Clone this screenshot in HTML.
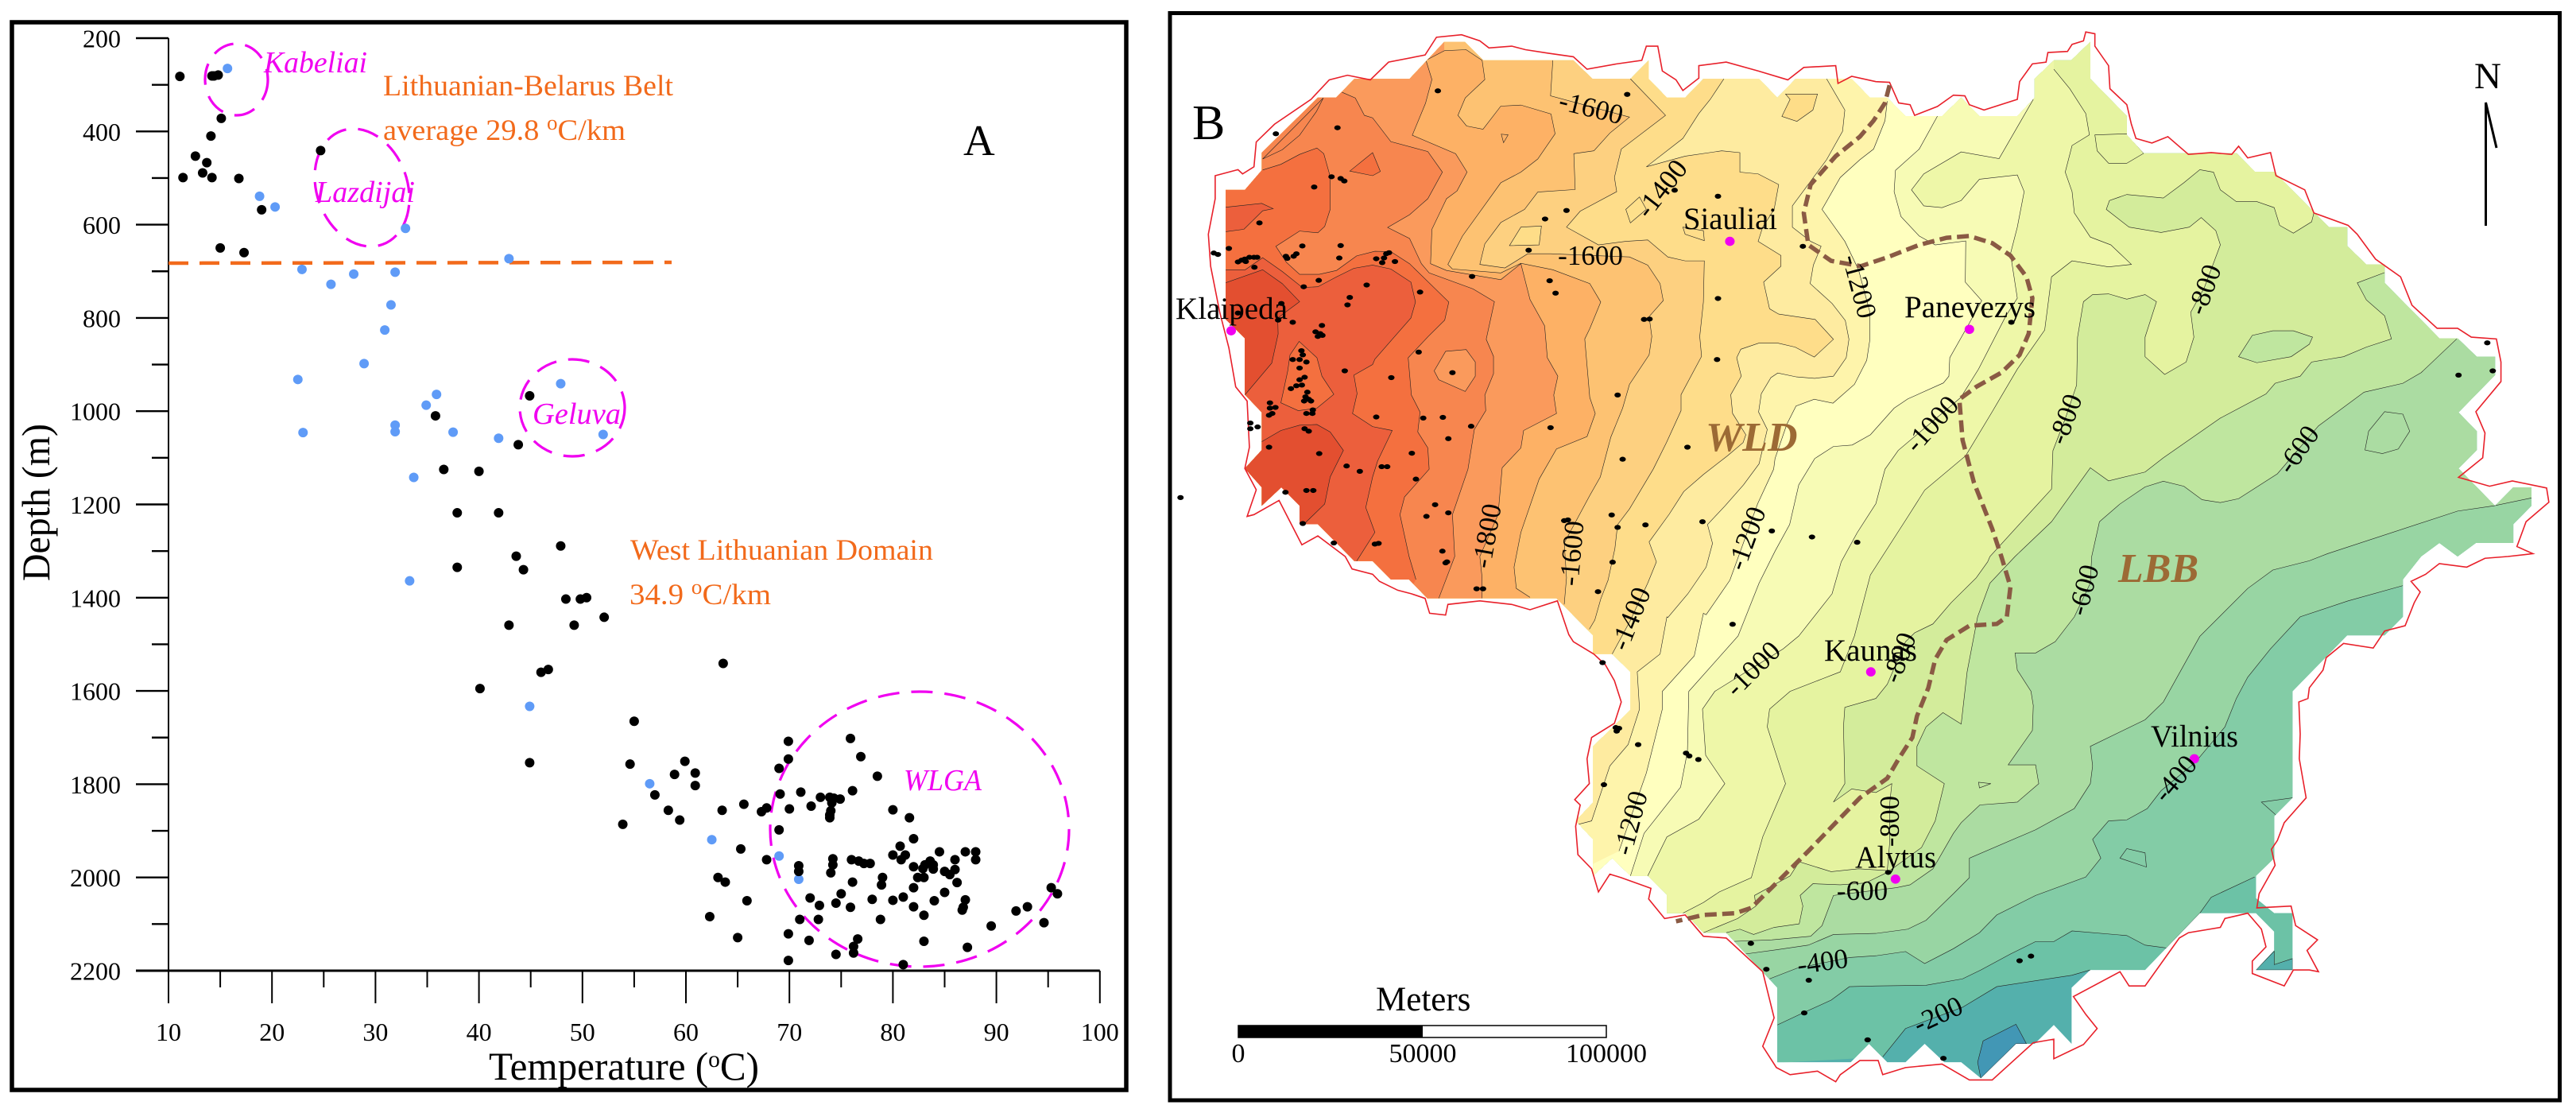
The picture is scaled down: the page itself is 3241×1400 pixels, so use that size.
<!DOCTYPE html>
<html lang="en">
<head>
<meta charset="utf-8">
<title>Temperature versus depth and depth map, Lithuania</title>
<style>
html,body{margin:0;padding:0;background:#fff;overflow:hidden}
svg{display:block}
text{font-family:"Liberation Serif","Times New Roman",serif}
</style>
</head>
<body>
<svg id="fig" xmlns="http://www.w3.org/2000/svg" width="3241" height="1400" viewBox="0 0 3241 1400">
<rect width="3241" height="1400" fill="#fff"/>
<rect x="15" y="28" width="1402" height="1343" fill="none" stroke="#000" stroke-width="5.5"/>
<rect x="1472" y="16.5" width="1748.5" height="1367.5" fill="none" stroke="#000" stroke-width="5"/>

<g id="chartA">
  <g id="axes"></g>
  <line x1="212" y1="331" x2="845" y2="330" stroke="#f26a1b" stroke-width="4.5" stroke-dasharray="25 14"/>
  <g fill="none" stroke="#f000f0" stroke-width="3.2" stroke-dasharray="27 15">
    <ellipse cx="297.5" cy="100" rx="39.5" ry="45"/>
    <ellipse cx="455.5" cy="236" rx="57" ry="76" transform="rotate(-20 455.5 236)"/>
    <ellipse cx="720" cy="513" rx="66" ry="61"/>
    <ellipse cx="1157" cy="1043" rx="188" ry="173"/>
  </g>
  <g id="points"></g>
  <g fill="#f000f0" font-style="italic" font-size="38">
    <text x="332" y="91" textLength="130" lengthAdjust="spacingAndGlyphs">Kabeliai</text>
    <text x="397" y="254" textLength="125" lengthAdjust="spacingAndGlyphs">Lazdijai</text>
    <text x="670" y="533" textLength="111" lengthAdjust="spacingAndGlyphs">Geluva</text>
    <text x="1137" y="994" textLength="98" lengthAdjust="spacingAndGlyphs">WLGA</text>
  </g>
  <g fill="#f26a1b" font-size="37">
    <text x="482" y="120" textLength="365" lengthAdjust="spacingAndGlyphs">Lithuanian-Belarus Belt</text>
    <text x="482" y="176" textLength="305" lengthAdjust="spacingAndGlyphs">average 29.8 <tspan dy="-13" font-size="26">o</tspan><tspan dy="13">C/km</tspan></text>
    <text x="793" y="704" textLength="381" lengthAdjust="spacingAndGlyphs">West Lithuanian Domain</text>
    <text x="792" y="760" textLength="178" lengthAdjust="spacingAndGlyphs">34.9 <tspan dy="-13" font-size="26">o</tspan><tspan dy="13">C/km</tspan></text>
  </g>
  <text x="1212" y="195" font-size="55">A</text>
  <text transform="translate(62 632) rotate(-90)" text-anchor="middle" font-size="50" textLength="198" lengthAdjust="spacingAndGlyphs">Depth (m)</text>
  <text x="615" y="1358" font-size="50" textLength="340" lengthAdjust="spacingAndGlyphs">Temperature (<tspan dy="-16" font-size="30">o</tspan><tspan dy="16">C)</tspan></text>
</g>

<defs><clipPath id="countryClip"><path id="countryClipPath"/></clipPath></defs>
<g id="mapUV" transform="translate(1460 0) scale(0.57406 0.44643)">
  <g clip-path="url(#countryClip)">
    <rect x="-100" y="0" width="3200" height="3100" fill="#54b0ac"/>
    <g id="bands"></g>
    <g id="islands"></g>
  </g>
  <path id="redBorder" fill="none" stroke="#e8202a" stroke-width="1.6" vector-effect="non-scaling-stroke"/>
  <path id="brownLine" fill="none" stroke="#8a5a44" stroke-width="5.5" stroke-dasharray="15 7" vector-effect="non-scaling-stroke"/>
  <g id="wells"></g>
  <g id="cities"></g>
</g>

<g id="mapText">
  <text x="1500" y="175" font-size="62">B</text>
  <g font-size="39">
    <text x="2118" y="288" textLength="118" lengthAdjust="spacingAndGlyphs">Siauliai</text>
    <text x="1479" y="401" textLength="141" lengthAdjust="spacingAndGlyphs">Klaipeda</text>
    <text x="2396" y="399" textLength="165" lengthAdjust="spacingAndGlyphs">Panevezys</text>
    <text x="2295" y="831" textLength="117" lengthAdjust="spacingAndGlyphs">Kaunas</text>
    <text x="2706" y="939" textLength="110" lengthAdjust="spacingAndGlyphs">Vilnius</text>
    <text x="2334" y="1091" textLength="102" lengthAdjust="spacingAndGlyphs">Alytus</text>
  </g>
  <g fill="#9c6a35" font-weight="bold" font-style="italic" font-size="52">
    <text x="2146" y="567">WLD</text>
    <text x="2665" y="732">LBB</text>
  </g>
  <g id="contourLabels" font-size="35" text-anchor="middle"></g>
  <text x="3113" y="111" font-size="47">N</text>
  <path d="M3127.5 284V129L3141 186" fill="none" stroke="#000" stroke-width="3"/>
  <text x="1731" y="1271" font-size="43">Meters</text>
  <rect x="1558" y="1290" width="463" height="15" fill="#fff" stroke="#000" stroke-width="1.5"/>
  <rect x="1558" y="1290" width="232" height="15" fill="#000"/>
  <g font-size="34" text-anchor="middle">
    <text x="1558" y="1336">0</text>
    <text x="1790" y="1336">50000</text>
    <text x="2021" y="1336">100000</text>
  </g>
</g>

<script>
// ---------- Scatter chart data ----------
var xTickValues = [10,20,30,40,50,60,70,80,90,100];
var yTickValues = [200,400,600,800,1000,1200,1400,1600,1800,2000,2200];
var blackTemperature = [11.1,14.2,14.8,14.4,15.1,14.1,12.6,13.7,13.3,11.4,14.2,16.8,19.0,24.7,15.0,17.3,44.9,35.8,43.8,36.6,40.0,37.9,41.9,47.9,43.6,37.9,44.3,48.4,49.8,50.4,52.1,42.9,49.2,63.6,46.7,46.0,40.1,55.0,75.9,69.9,76.9,69.9,59.9,44.9,54.6,60.9,58.9,78.5,69.0,60.9,57.0,69.1,71.1,76.1,73.0,73.9,74.3,74.9,74.1,65.6,67.8,72.1,70.0,67.3,74.0,63.5,58.3,80.0,73.9,81.6,59.4,73.9,53.9,69.0,82.0,80.7,65.3,84.5,87.0,88.0,80.0,81.2,80.8,67.8,74.2,76.0,76.7,77.2,77.8,88.0,86.0,83.6,83.1,83.9,82.0,82.9,83.9,74.2,70.9,70.9,86.0,85.0,74.0,85.5,82.4,83.0,79.0,63.1,63.8,76.1,86.2,78.9,82.0,95.3,95.9,85.0,75.0,72.0,81.0,78.0,80.0,84.0,87.0,65.9,74.5,72.9,82.0,93.0,75.9,86.8,91.9,86.7,83.0,62.3,78.8,71.0,72.8,94.6,89.5,69.9,65.0,76.6,71.9,83.0,76.2,87.2,76.2,74.5,69.9,81.0];
var blackDepth = [282,281,279,281,372,410,453,467,489,499,499,501,568,441,650,660,967,1010,1072,1125,1129,1218,1218,1289,1311,1335,1340,1403,1403,1400,1442,1459,1459,1541,1554,1560,1595,1665,1702,1708,1741,1746,1751,1754,1757,1776,1779,1783,1766,1803,1823,1821,1817,1814,1828,1828,1830,1832,1840,1843,1851,1847,1853,1859,1857,1856,1856,1855,1866,1872,1877,1872,1886,1898,1917,1933,1939,1945,1945,1945,1952,1952,1962,1962,1960,1962,1965,1970,1970,1962,1962,1965,1973,1973,1977,1981,1982,1973,1975,1987,1983,1987,1990,1994,2000,2000,2000,2000,2010,2010,2011,2016,2022,2022,2035,2032,2035,2044,2042,2047,2049,2050,2048,2050,2055,2060,2063,2063,2064,2064,2072,2070,2081,2084,2090,2090,2090,2097,2104,2121,2129,2132,2135,2137,2148,2150,2162,2165,2178,2187];
var blueTemperature = [15.7,18.8,20.3,32.9,42.9,22.9,25.7,27.9,31.9,31.5,30.9,28.9,22.5,47.9,35.9,34.9,31.9,31.9,23.0,37.5,41.9,52.0,33.7,33.3,44.9,56.5,62.5,69.0,70.9];
var blueDepth = [265,539,562,608,673,696,728,706,702,772,826,898,932,941,964,987,1030,1044,1046,1045,1058,1050,1142,1364,1633,1799,1919,1954,2004];

// ---------- Map data (digitised map units) ----------
var countryOutline = [3,[143,535,185,535,222,480,222,430,345,275,385,275,425,222,546,222,622,118,667,118,708,170,905,170,947,222,1030,222,1070,170,1070,222,1110,275,1150,275,1190,222,1312,222,1352,275,1392,222,1515,222,1555,275],
4,[60,275,100,327,180,327,222,275,262,327,345,327,383,275,383,222,425,170,463,170,505,118,505,222,585,327,585,380,622,432,826,432,866,484,908,484,1028,640,1068,640,1068,693,1110,745,1150,745,1150,797,1270,953,1310,953,1352,1005,1392,1005,1392,1057,1312,1162,1352,1215,1352,1268,1312,1320,1392,1425,1432,1373,1472,1373,1472,1425,1432,1477,1432,1530,1350,1530,1310,1568,1270,1530,1230,1568],
6,[1190,65,1190,170,1150,222,1068,222,948,380,948,680,908,732,908,850,868,900,868,963,908,1005,948,1005,948,1165,868,1165,908,1110,908,1057,868,1005,745,1005,625,1165,505,1165,464,1215,464,1373,425,1320,383,1373,342,1373,265,1470,222,1425,185,1425,142,1373,100,1425,60,1425,20,1373,-20,1425],
5,[1352,1425,1352,1215,1240,1060,1190,1060,1150,1005,1110,1005,1110,953,1068,900,1030,900,990,850,948,900,948,797,910,745,948,693,948,535,1030,432,1030,325,990,275,948,275,948,222,868,118,585,118,545,65,505,65,465,13,425,13],
3,[345,1477,305,1477,305,1425,265,1373,222,1425,222,1373,185,1320,222,1268,222,1162,185,1112,185,953,143,900]];

var borderOutline = [3,[120,495,170,478,180,490,205,470,210,400,250,350,330,280,370,225,410,212,460,225,500,175,580,155,605,105,660,98,700,115,720,135,770,130,800,140,850,150,905,160,935,195,1000,180,1055,170,1065,130,1090,130,1100,200,1130,225,1145,255,1180,220,1180,185,1240,175,1310,200,1375,225,1410,190,1480,185,1485,235,1515,215,1568,230],
4,[65,232,85,290,110,295,120,325,170,300,205,268,230,270,240,295,272,310,345,280,350,230,378,180,408,175,412,148,455,145,465,125,490,115,495,90,515,95,515,130,545,185,548,250,585,295,595,350,605,390,640,403,675,385,720,435,770,430,815,435,830,412,850,445,900,430,912,495,975,535,995,600,1070,635,1090,660,1130,730,1185,780,1210,860,1265,925,1310,925,1340,950,1395,955,1405,1020,1405,1075,1350,1160,1370,1220,1365,1290,1312,1345,1380,1370,1430,1355,1505,1375,1510,1415,1460,1470,1440,1540,1475,1560],
6,[1420,0,1370,5,1330,30,1270,20,1240,50,1208,70,1228,100,1215,130,1195,195,1150,210,1125,258,1060,245,1022,285,1015,320,985,370,982,400,962,410,965,500,963,570,978,680,930,750,915,800,902,825,910,870,875,950,870,990,945,985,955,1040,1003,1080,980,1110,1005,1170,985,1165,950,1165,930,1210,860,1175,860,1140,890,1100,880,1050,850,1005,800,1020,790,1045,720,1060,700,1075,625,1210,590,1210,570,1170,468,1240,495,1290,520,1330,490,1375,425,1415,425,1360,380,1370,290,1475,240,1475,180,1430,100,1440,50,1460,40,1420,0,1420],
5,[1490,1460,1480,1480,1440,1450,1380,1460,1350,1440,1320,1380,1345,1300,1320,1170,1240,1075,1190,1070,1150,1010,1105,1020,1070,965,1075,935,1010,905,985,895,960,945,945,880,915,840,910,760,920,700,908,685,940,640,935,570,945,510,995,470,1010,410,995,350,975,305,950,275,905,240,895,220,870,125,810,150,770,135,700,125,630,135,625,165,590,160,580,118,550,105,520,95,480,70,465,50,420,35,405,0],
3,[345,1510,310,1535,260,1410,205,1450,190,1455,210,1380,185,1320,195,1260,190,1130,165,1090,150,980,130,880,110,750,105,660,120,560]];

var boundaryLine = [4,[65,240,55,290,30,340,0,385],3,[1480,440,1425,520,1410,600,1420,690,1470,735,1535,750],4,[60,725,130,690,190,670,240,665,290,685,330,720,365,780,378,840,370,940,350,1000,310,1050,255,1090,218,1125,225,1240,250,1360,290,1490,310,1568],6,[330,85,322,170,300,190,240,195,190,235,165,290,150,370,125,450,115,510,85,570,60,625,0,680],5,[1480,750,1420,830,1350,920,1295,990,1260,1005,1190,1010,1130,1028]];

var contourBands = [
{fill:'#6cc2a6',exit:'E',segs:[6,[50,1410,100,1330,225,1270,300,1212,464,1180,505,1165]]},
{fill:'#83cca6',exit:'E',segs:[5,[1352,1320,1410,1285,1470,1250,1510,1212,1568,1210],6,[145,1208,225,1190,265,1165,330,1120,385,1085,425,1085,465,1055,585,1068,625,1095,672,1103,745,1005,770,960,865,903]]},
{fill:'#98d5a3',exit:'E',segs:[5,[1335,1190,1395,1160,1510,1130],6,[35,1125,100,1113,142,1147,205,1105,262,1060,300,1010,385,955,495,903,528,850,510,797,545,745,585,742,630,710,660,660,735,580,800,480,825,400,850,340,900,260,965,170,1070,125,1190,82]]},
{fill:'#abdca2',exit:'E',segs:[5,[1282,1120,1350,1108,1420,1095,1475,1065],6,[35,1062,105,1050,145,1025,205,950,240,905,240,850,385,770,470,710,505,640,510,590,505,535,625,460,665,410,745,225,850,90,905,38,985,12],4,[1025,1560,1310,1440,1390,1425,1472,1403]]},
{fill:'#bfe69f',exit:'E',segs:[5,[1245,1085,1340,1080,1425,1070,1450,1040,1475,955],6,[80,933,110,925,160,880,205,780,222,750,263,700,345,692,392,640,385,587,325,587,378,490,380,420,375,380,345,320,340,272,385,272,428,240,470,170,505,75,508,0],4,[525,1470,570,1420,625,1372,665,1356,710,1370,750,1408,790,1416,830,1405,915,1335,1005,1200,1105,1105,1190,1080,1230,1050,1308,955]]},
{fill:'#d3ec9b',exit:'E',segs:[5,[1240,1060,1270,1050,1300,1065,1345,1045,1400,1035,1408,985,1402,955,1430,922,1490,925],6,[12,920,60,890,135,820,165,745,185,640,125,590,125,535,145,480,182,440,222,472,235,325,258,170,285,75,340,0],4,[420,1470,505,1318,545,1355,625,1330,665,1290,790,1178,890,1110,910,1080,965,1060,990,1020,1060,1005,1110,978,1165,955,1150,890,1110,845,1090,797,1150,768]]},
{fill:'#e5f3a0',exit:'E',segs:[5,[1190,1060,1265,1020,1305,985,1302,955,1380,900,1400,860,1470,888,1530,880],6,[60,885,65,810,65,700,70,640,35,665,-18,655,-58,692,-33,640,-36,480,-33,425,35,400,60,360,100,240,120,215,160,190,200,130,255,60,280,15],4,[285,1568,420,1378,423,1270,450,1180,475,1085,477,950,490,850,510,830,545,828,585,843,625,830,650,850,625,950,625,1005,668,1055,715,1020,732,950,725,880,755,810,790,690,780,650,748,613,722,640,660,655,590,640,540,590,547,565,585,548,665,558,710,515,745,478,775,485,790,535,825,568,870,568,908,585,920,635,950,657,990,625,995,600]]},
{fill:'#eef7a8',exit:'N',segs:[5,[1145,1005,1190,975,1225,945,1295,905,1320,790,1370,640,1330,480,1335,430,1380,380,1450,345,1490,325],3,[1521,1792,1556,1620,1638,1456,1675,1381,1765,1284],4,[290,1160,345,1040,405,930,420,780,465,735,545,752,595,745,550,690,505,668,470,600,465,540,450,485,465,410,503,380,495,320,460,250,425,195]]},
{fill:'#f7fbb5',exit:'N',segs:[5,[1068,900,1110,790,1180,740,1237,640,1195,560,1188,430,1215,380,1365,260],3,[1399,1792,1472,1673,1492,1583,1527,1501,1568,1419,1588,1322,1617,1269,1754,1120],4,[260,1040,320,890,345,840,330,715,345,640,360,540,345,493,262,505,222,565,180,585,140,580,113,535,140,490,222,428,305,447,380,280]]},
{fill:'#ffffbf',exit:'N',segs:[5,[1030,900,1060,780,1140,650,1155,550,1158,380],3,[1266,1792,1312,1643,1347,1553,1379,1478,1399,1366,1434,1292,1475,1258,1516,1254,1556,1225,1608,1150,1638,1124,1716,1079,1728,1060,1730,1008,1773,910,1800,847,1764,795,1765,679],4,[165,690,130,665,90,610,75,540,78,480,130,420,170,327]]},
{fill:'#fef4ab',exit:'N',segs:[5,[1005,830,1065,610,1100,430,1100,380,1170,280,1190,160],3,[1196,1732,1248,1635,1309,1419,1344,1322,1347,1292,1373,1195,1393,1144,1433,1125,1474,1136,1521,1083,1548,1015,1555,956,1555,880,1530,760,1500,680,1450,590,1490,500,1533,450],4,[30,420,55,340,60,285]]},
{fill:'#feeba0',exit:'N',segs:[5,[915,755,945,745,985,590,1025,530,1050,430,1045,325,1095,275,1110,170],3,[1112,1740,1156,1673,1196,1598,1210,1531,1199,1478,1237,1426,1278,1366,1312,1307,1330,1210,1311,1161,1317,1109,1338,1064,1353,1051,1394,1062,1434,1066,1475,1060,1503,1008,1509,956,1501,903,1472,855,1424,799,1431,747,1448,694,1425,680,1385,640,1385,580,1460,450,1495,370,1500,310,1460,222]]},
{fill:'#fedd8a',exit:'N',segs:[5,[990,275,1030,180],3,[1068,1643,1087,1583,1071,1527,1115,1449,1147,1385,1190,1337,1243,1284,1277,1247,1283,1225,1254,1165,1250,1112,1273,1060,1263,1008,1272,984,1311,967,1354,967,1391,978,1433,1006,1475,956,1435,900,1355,885,1335,870,1322,795,1360,750,1360,720,1310,680,1320,640,1345,590,1355,520,1310,490,1270,485,1270,430,1230,425,1150,440,1065,470,1145,390,1180,320,1205,280,1235,222]]},
{fill:'#fdd080',exit:'N',segs:[5,[940,205],3,[952,1747,965,1688,981,1635,996,1546,1002,1478,1028,1434,1080,1322,1109,1247,1141,1157,1141,1112,1186,1004,1182,948,1190,851,1192,735,1150,735,1112,724,1068,676,1020,680,960,690,890,640,920,595,1000,540,995,500,1010,420,1107,325,1030,222]]},
{fill:'#fdc272',exit:'N',segs:[5,[885,135,890,60],3,[885,1530,941,1396,964,1344,987,1232,1013,1150,1028,1083,1071,1000,1077,948,1071,892,1102,847,1095,799,1068,747,1028,724,855,715,805,715,755,755,700,745,711,687,746,627,798,590,827,541,909,534,906,433,950,425,985,375,1028,330,855,270,860,170]]},
{fill:'#fdb165',exit:'N',segs:[5,[810,115,780,90,775,30],3,[790,1500,830,1350,868,1265,935,1230,953,1165,941,1120,930,955,941,926,965,851,941,799,860,760,790,742,746,769,640,758,630,745,662,665,746,515,790,485,827,448,865,377,856,321,790,296,746,299,707,364,671,355,652,325,668,276,711,224,705,170,670,140,620,143]]},
{fill:'#fa9a5c',exit:'N',segs:[5,[705,118,705,60,700,0],3,[740,1450,749,1318,790,1262,796,1213,868,1165,862,1113,871,1060,848,1008,842,918,810,844,790,743,746,788,627,762,592,743,595,646,627,560,650,538,672,485,647,433,552,381,581,291,595,224,582,170,622,143]]},
{fill:'#f7864f',exit:'N',segs:[5,[610,118,645,0],3,[640,1450,674,1322,688,1210,713,1157,711,1113,730,1053,730,1004,714,956,732,850,685,814,589,769,572,743,546,672,498,641,546,605,586,560,618,485,586,427,505,399,465,332,447,325,427,276,398,260]]},
{fill:'#f4703f',exit:'W',segs:[5,[560,65,545,0],3,[525,1450,535,1400,589,1322,586,1262,564,1217,569,1161,550,1113,543,1008,587,948,623,902,632,851,589,797,546,743,505,709,470,708,430,721,386,762,348,773,305,773,276,739,253,694,305,651,345,656,360,638,372,590,372,497,358,433,343,417,305,435,264,463,224,479]]},
{fill:'#ec5f3c',exit:'W',segs:[5,[430,13],3,[470,1500,450,1430,465,1344,476,1299,508,1213,465,1202,421,1165,431,1109,424,1057,465,1027,470,1012,508,956,549,896,559,851,549,795,505,758,465,747,424,756,386,780,345,808,311,810,267,765,224,726,186,760,142,760]]}
];

var contourIslands = [
{fill:'#e34f30',segs:[3,[100,800,142,797,224,760,267,799,305,850,257,896,258,941,244,1023,183,1116,100,1125]]},
{fill:'#e34f30',segs:[3,[100,1330,224,1243,264,1213,305,1198,343,1196,372,1217,401,1269,372,1344,360,1420,320,1470,305,1500,100,1500]]},
{fill:'#f4703f',segs:[3,[304,962,343,1008,354,1060,380,1111,343,1150,302,1157,264,1135,279,1045,284,1000]]},
{fill:'#ec5f3c',segs:[3,[142,584,222,573,247,588,224,594,183,646,142,653]]},
{fill:'#f4703f',segs:[3,[415,482,465,430,482,483,465,495]]},
{fill:'#fa9a5c',segs:[3,[600,1045,625,990,670,985,690,1020,690,1060,668,1103,610,1070]]},
{fill:'#fedd88',segs:[3,[765,692,790,640,835,637,830,690]]},
{fill:'none',segs:[3,[747,378,762,380,752,402]]},
{fill:'#fedd88',segs:[3,[1370,265,1440,265,1430,310,1395,342,1362,328,1380,280]]},
{fill:'#fee08b',segs:[3,[1020,590,1050,555,1065,590,1030,628]]},
{fill:'none',segs:[3,[1145,640,1190,650,1192,678,1150,660]]},
{fill:'none',segs:[3,[224,448,267,422,305,381,342,314,357,276]]},
{fill:'#e5f3a0',segs:[4,[515,380,585,377,622,432,585,460,545,460,520,425]]},
{fill:'#bfe69f',segs:[4,[830,1005,860,945,905,932,950,932,992,950,985,970,945,1005,870,1022]]},
{fill:'none',segs:[4,[1150,1160,1190,1167,1205,1215,1180,1265,1145,1278,1107,1268,1115,1215]]},
{fill:'none',segs:[6,[570,850,585,823,625,835,628,875]]},
{fill:'none',segs:[6,[880,692,948,680,948,700,915,732]]},
{fill:'none',segs:[6,[260,636,287,640,262,652]]},
{fill:'#54b0ac',segs:[6,[868,1165,908,1112,908,1150,948,1133,948,1165]]},
{fill:'#4297b5',segs:[6,[265,1470,258,1425,270,1365,342,1318,365,1373,342,1373]]}
];

var wellSites = [3,[253,377,388,360,608,256,1023,266,375,498,395,503,403,510,337,527,217,628,1127,536,1222,553,890,593,843,617,150,700,117,713,126,717,311,693,395,692,170,738,178,733,185,730,195,725,205,725,212,725,187,737,275,722,278,728,292,722,298,715,392,727,473,729,490,727,486,740,495,715,501,712,514,737,206,753,807,705,1408,694,683,779,347,790,314,808,452,803,853,791,866,826,569,823,415,838,410,859,1222,841,1060,900,1072,899,265,855,258,902,290,908,170,882,354,917,340,935,350,940,345,948,355,945,566,992,1220,1013,309,988,312,1000,290,1013,305,1013,320,1020,305,1037,404,1045,640,1050,506,1064,316,1063,305,1070,310,1085,298,1087,286,1095,322,1105,318,1118,325,1125,330,1130,315,1130,1002,1113,240,1135,252,1148,240,1150,245,1165,238,1170,334,1155,320,1165,333,1165,473,1175,576,1178,619,1176,197,1192,197,1208,213,1203,681,1201,316,1208,325,1215,855,1205,631,1236,238,1260,1155,1260,348,1278,551,1277,1013,1294,408,1313,437,1328,485,1315,497,1315,560,1350,320,1382,335,1382,274,1387,44,1402,602,1422,583,1455,631,1445,885,1467,893,1465,989,1451,1002,1486,1063,1479,1188,1470,1340,1496,1428,1513,1527,1528,312,1475,380,1530,470,1533,478,1531,618,1553],
5,[628,15,625,18,991,16,693,91,707,91,959,99,1254,191,969,299,998,482,1005,484,1000,492,1047,530,1152,554,1159,562,1179,572,972,643,1294,1090,1328,1163,1421,1194,1411,1286,1550,1362],
4,[1375,966,1312,1057,1387,1045,332,908],
6,[350,1139,375,1126,17,1362,183,1414,62,890]];

var citySites = [3,[1248,680,155,932],4,[240,928],6,[24,325,78,909,733,570]];

var contourLabelText = ['-1600','-1400','-1600','-1200','-1000','-800','-800','-600','-1800','-1600','-1400','-1200','-1000','-1200','-800','-600','-400','-800','-600','-400','-200'];
var contourLabelX = [2002,2090,2001,2340,2430,2773,2598,2891,1870,1977,2051,2197,2205,2051,2389,2621,2736,2377,2343,2293,2438];
var contourLabelY = [135,237,321,360,533,364,527,565,674,696,778,677,841,1035,827,742,979,1033,1120,1209,1276];
var contourLabelAngle = [14,-52,0,75,-48,-70,-70,-55,-80,-85,-68,-70,-45,-75,-70,-75,-50,-90,0,-8,-25];

// ---------- Helpers ----------
var NS = 'http://www.w3.org/2000/svg';
function make(tag, parent){ var e = document.createElementNS(NS, tag); parent.appendChild(e); return e; }
function xAxis(t){ return 212 + (t - 10) * 13.02; }
function yAxis(d){ return 48 + (d - 200) * 0.5865; }
var frameOffset = {3:[0,0],4:[1533,0],5:[0,1568],6:[1533,1568]};
function toPoints(segs){
  var out = [];
  for (var i = 0; i < segs.length; i += 2){
    var o = frameOffset[segs[i]], a = segs[i+1];
    for (var j = 0; j < a.length; j += 2){ out.push([a[j] + o[0], a[j+1] + o[1]]); }
  }
  return out;
}
function pathOf(pts){ return 'M' + pts.map(function(p){ return p[0] + ' ' + p[1]; }).join('L'); }

// ---------- Axes ----------
var axes = document.getElementById('axes');
function axisLine(x1, y1, x2, y2, w, name){
  var l = make('line', axes);
  l.setAttribute('x1', x1); l.setAttribute('y1', y1); l.setAttribute('x2', x2); l.setAttribute('y2', y2);
  l.setAttribute('stroke', '#000'); l.setAttribute('stroke-width', w);
  
  
}
axisLine(xAxis(10), yAxis(200), xAxis(10), yAxis(2200), 2, 'y-axis-line');
axisLine(171, yAxis(2200), xAxis(100), yAxis(2200), 3, 'x-axis-line');
yTickValues.forEach(function(v, i){
  axisLine(171, yAxis(v), xAxis(10), yAxis(v), 2.4, 'y-tick');
  if (i < yTickValues.length - 1){ axisLine(191, yAxis(v + 100), xAxis(10), yAxis(v + 100), 2.4, 'y-minor-tick'); }
  var t = make('text', axes);
  t.setAttribute('x', 152); t.setAttribute('y', yAxis(v) + 11.5);
  t.setAttribute('text-anchor', 'end'); t.setAttribute('font-size', 32);
  
  
  t.textContent = v;
});
xTickValues.forEach(function(v, i){
  axisLine(xAxis(v), yAxis(2200), xAxis(v), 1262, 2, 'x-tick');
  if (i < xTickValues.length - 1){ axisLine(xAxis(v + 5), yAxis(2200), xAxis(v + 5), 1242, 2, 'x-minor-tick'); }
  var t = make('text', axes);
  t.setAttribute('x', xAxis(v)); t.setAttribute('y', 1309);
  t.setAttribute('text-anchor', 'middle'); t.setAttribute('font-size', 32);
  
  
  t.textContent = v;
});

// ---------- Scatter points ----------
var pointsGroup = document.getElementById('points');
blueTemperature.forEach(function(t, i){
  var c = make('circle', pointsGroup);
  c.setAttribute('cx', xAxis(t)); c.setAttribute('cy', yAxis(blueDepth[i])); c.setAttribute('r', 6);
  c.setAttribute('fill', '#5f9bf7');
  
  
});
blackTemperature.forEach(function(t, i){
  var c = make('circle', pointsGroup);
  c.setAttribute('cx', xAxis(t)); c.setAttribute('cy', yAxis(blackDepth[i])); c.setAttribute('r', 6);
  c.setAttribute('fill', '#000');
  
  
});

// ---------- Map ----------
document.getElementById('countryClipPath').setAttribute('d', pathOf(toPoints(countryOutline)) + 'Z');
document.getElementById('redBorder').setAttribute('d', pathOf(toPoints(borderOutline)) + 'Z');
document.getElementById('brownLine').setAttribute('d', pathOf(toPoints(boundaryLine)));

var bandsGroup = document.getElementById('bands');
contourBands.forEach(function(b){
  var pts = toPoints(b.segs), last = pts[pts.length - 1], tail;
  if (b.exit === 'E'){ tail = [[3100,last[1]],[3100,0],[-100,0],[-100,3100]]; }
  else if (b.exit === 'N'){ tail = [[last[0],0],[-100,0],[-100,3100]]; }
  else { tail = [[-100,last[1]],[-100,3100]]; }
  var fillPath = make('path', bandsGroup);
  fillPath.setAttribute('d', pathOf(pts.concat(tail)) + 'Z');
  fillPath.setAttribute('fill', b.fill);
  
  
  var linePath = make('path', bandsGroup);
  linePath.setAttribute('d', pathOf(pts));
  linePath.setAttribute('fill', 'none');
  linePath.setAttribute('stroke', '#222');
  linePath.setAttribute('stroke-width', '0.6');
  linePath.setAttribute('vector-effect', 'non-scaling-stroke');
  
  
});
var islandsGroup = document.getElementById('islands');
contourIslands.forEach(function(b){
  var p = make('path', islandsGroup);
  p.setAttribute('d', pathOf(toPoints(b.segs)) + 'Z');
  p.setAttribute('fill', b.fill);
  p.setAttribute('stroke', '#222');
  p.setAttribute('stroke-width', '0.6');
  p.setAttribute('vector-effect', 'non-scaling-stroke');
  
  
});

var wellsGroup = document.getElementById('wells');
toPoints(wellSites).forEach(function(p){
  var c = make('circle', wellsGroup);
  c.setAttribute('cx', p[0]); c.setAttribute('cy', p[1]); c.setAttribute('r', 7);
  c.setAttribute('fill', '#000');
  
  
});
var citiesGroup = document.getElementById('cities');
toPoints(citySites).forEach(function(p){
  var c = make('ellipse', citiesGroup);
  c.setAttribute('cx', p[0]); c.setAttribute('cy', p[1]); c.setAttribute('rx', 10.5); c.setAttribute('ry', 13);
  c.setAttribute('fill', '#f000f0');
  
  
});

var labelGroup = document.getElementById('contourLabels');
contourLabelText.forEach(function(s, i){
  var t = make('text', labelGroup);
  t.setAttribute('transform', 'translate(' + contourLabelX[i] + ' ' + contourLabelY[i] + ') rotate(' + contourLabelAngle[i] + ') translate(0 12)');
  
  
  t.textContent = s;
});
</script>
</svg>
</body>
</html>
